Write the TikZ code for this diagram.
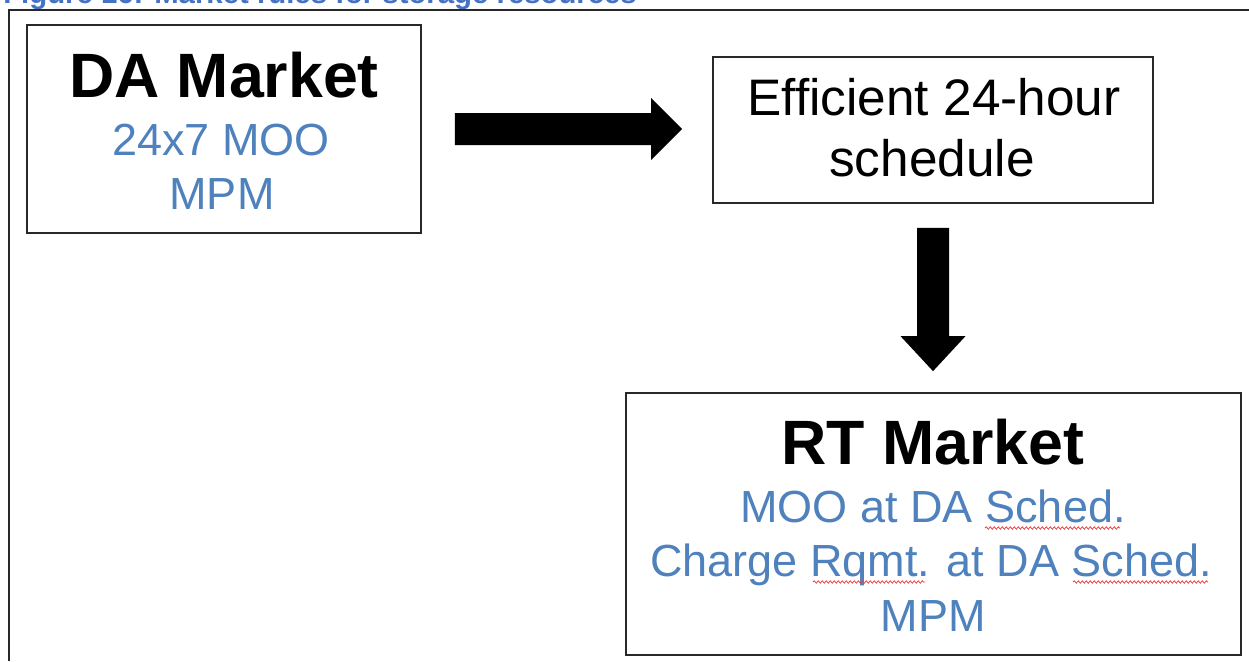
\documentclass[tikz,border=0pt]{standalone}
\usepackage{fontspec}
\setmainfont{Liberation Sans}
\usetikzlibrary{calc,decorations.pathmorphing}
\definecolor{mblue}{RGB}{79,129,189}
\definecolor{capblue}{RGB}{68,114,196}
\definecolor{frame}{RGB}{40,40,40}
\definecolor{spell}{RGB}{235,70,70}
\begin{document}
\begin{tikzpicture}[x=0.75pt,y=-0.75pt,
  box/.style={draw=frame,line width=1.3pt,inner sep=0pt,fill=white},
  title/.style={anchor=base,font=\fontsize{47}{56}\selectfont\bfseries},
  btext/.style={anchor=base,text=mblue,font=\fontsize{33.75}{40}\selectfont},
  ktext/.style={anchor=base,font=\fontsize{38.5}{46}\selectfont},
  squiggle/.style={draw=spell,line width=0.6pt,decorate,decoration={snake,amplitude=0.9pt,segment length=3pt}}]
\useasboundingbox (0,0) rectangle (1249,661);
\clip (0,0) rectangle (1249,661);
\fill[white] (0,0) rectangle (1249,661);
% caption (cut off at the top)
\node[anchor=base west,inner sep=0pt,text=capblue,font=\fontsize{22}{26}\selectfont\bfseries] (cap) at (3,3) {Figure 16: Market rules for storage resources};
% outer frame
\draw[frame,line width=1.5pt] (9,661) -- (9,10) -- (1249,10);
% boxes
\node[box,minimum width=394*0.75pt,minimum height=208*0.75pt] (da) at (224,129) {};
\node[box,minimum width=440*0.75pt,minimum height=146*0.75pt] (eff) at (933,130) {};
\node[box,minimum width=615*0.75pt,minimum height=262*0.75pt] (rt) at (933.5,524) {};
% texts
\node[title] (daT) at (224,97) {DA Market};
\node[btext] (da1) at (221,155) {24x7 MOO};
\node[btext] (da2) at (222,209) {MPM};
\node[ktext] (ef1) at (934,115) {Efficient 24-hour};
\node[ktext] (ef2) at (932,176) {schedule};
\node[title] (rtT) at (933,464) {RT Market};
\node[btext] (rt1) at (933,522) {MOO at DA Sched.};
\node[btext] (rt2) at (931,576) {Charge Rqmt. at DA Sched.};
\node[btext] (rt3) at (933,631) {MPM};
% spell-check underlines
\draw[squiggle] (985,528) -- (1120,528);
\draw[squiggle] (813,582) -- (925,582);
\draw[squiggle] (1073,582) -- (1208,582);
% block arrow right: DA -> Efficient
\coordinate (a1s) at ($(da.east)+(33,0)$);
\coordinate (a1e) at ($(a1s -| eff.west)+(-30,0)$);
\fill[black] ($(a1s)+(0,-16)$) -- ($(a1e)+(-31,-16)$) -- ($(a1e)+(-31,-31)$) -- (a1e)
  -- ($(a1e)+(-31,31)$) -- ($(a1e)+(-31,16)$) -- ($(a1s)+(0,16)$) -- cycle;
% block arrow down: Efficient -> RT
\coordinate (a2s) at ($(eff.south)+(0,24)$);
\coordinate (a2e) at ($(a2s |- rt.north)+(0,-21)$);
\fill[black] ($(a2s)+(-16,0)$) -- ($(a2e)+(-16,-35)$) -- ($(a2e)+(-32.5,-35)$) -- (a2e)
  -- ($(a2e)+(32.5,-35)$) -- ($(a2e)+(16,-35)$) -- ($(a2s)+(16,0)$) -- cycle;
\end{tikzpicture}
\end{document}
